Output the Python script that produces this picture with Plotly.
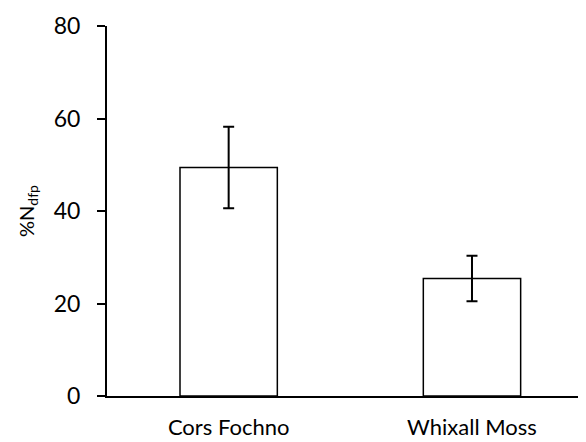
import plotly.graph_objects as go

categories = ["Cors Fochno", "Whixall Moss"]
values = [49.4, 25.4]
errors = [8.8, 4.9]
y_ticks = [0, 20, 40, 60, 80]

FONT = "Lato, Open Sans, sans-serif"

fig = go.Figure()
fig.add_trace(go.Bar(
    x=categories,
    y=values,
    width=0.4,
    marker=dict(color="white", line=dict(color="black", width=1.5)),
    error_y=dict(type="data", array=errors, visible=True, color="black", thickness=2, width=5.5),
))

fig.update_layout(
    width=586, height=442,
    margin=dict(l=99, r=4, t=18, b=54),
    paper_bgcolor="white", plot_bgcolor="white",
    showlegend=False,
    font=dict(family=FONT, color="black", size=22),
    xaxis=dict(
        range=[-0.5, 1.485],
        showline=True, linecolor="black", linewidth=2,
        ticks="", showgrid=False, zeroline=False,
        ticklabelstandoff=11,
        tickfont=dict(size=22, family=FONT),
    ),
    yaxis=dict(
        range=[0, 80],
        tickvals=y_ticks,
        showline=True, linecolor="black", linewidth=2,
        ticks="outside", ticklen=8, tickwidth=1.5, tickcolor="black",
        showgrid=False, zeroline=False,
        ticklabelstandoff=12,
        tickfont=dict(size=23, family=FONT),
        title=dict(text="%N<sub>dfp</sub>", font=dict(size=20, family=FONT), standoff=14),
    ),
)

fig.write_html("out.html")
